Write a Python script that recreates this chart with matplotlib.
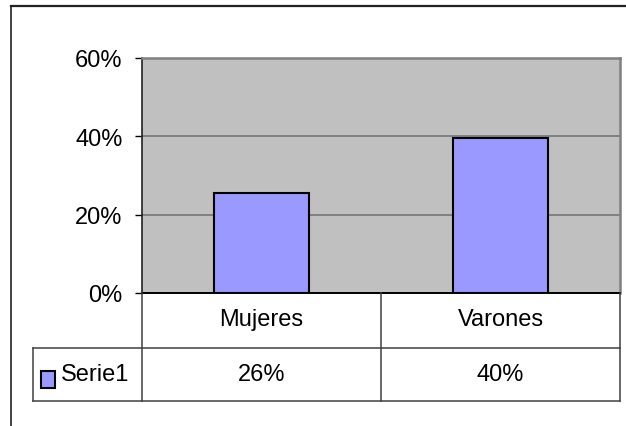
import matplotlib.pyplot as plt
from matplotlib.lines import Line2D
from matplotlib.patches import Rectangle

categories = ['Mujeres', 'Varones']
values = [0.255, 0.395]
table_labels = ['26%', '40%']
series_name = 'Serie1'
y_ticks = [0, 0.2, 0.4, 0.6]

W, H = 626, 427
plt.rcParams['font.family'] = ['Liberation Sans', 'DejaVu Sans']
fig = plt.figure(figsize=(W / 100, H / 100), dpi=100)


def fx(x):
    return x / W


def fy(y):
    return 1 - y / H


# outer chart border (right and bottom edges fall outside the picture)
fig.add_artist(Line2D([fx(11), fx(640)], [fy(7), fy(7)], transform=fig.transFigure, color='#222222', lw=1.6))
fig.add_artist(Line2D([fx(11), fx(11)], [fy(7), fy(440)], transform=fig.transFigure, color='#222222', lw=1.2))

left, right, top, bottom = 142, 620, 59, 294
ax = fig.add_axes([fx(left), fy(bottom), fx(right - left), fy(top) - fy(bottom)])
ax.set_facecolor('#C0C0C0')
x = range(len(categories))
ax.bar(x, values, width=0.4, color='#9999FF', edgecolor='black', linewidth=1.5, zorder=3)
ax.set_xlim(-0.5, len(categories) - 0.5)
ax.set_ylim(0, 0.6)
ax.set_yticks(y_ticks)
ax.set_yticklabels(['%d%%' % round(v * 100) for v in y_ticks], fontsize=17)
ax.yaxis.grid(True, color='#808080', lw=1.4, zorder=0)
ax.set_xticks([])
ax.tick_params(axis='y', length=5, width=1, pad=9, color='black')
for s in ax.spines.values():
    s.set_color('#808080')
    s.set_linewidth(1.8)
ax.spines['left'].set_color('#222222')
ax.spines['left'].set_linewidth(1.2)
ax.spines['bottom'].set_color('black')
ax.spines['bottom'].set_linewidth(1.4)

# data table
mid = (left + right) / 2
row1, row2, row3 = 294, 349, 402
lc = '#404040'
lines = [
    ((left, left), (row1, row3)),
    ((mid, mid), (row1, row3)),
    ((right, right), (row1, row3)),
    ((33, right), (row2, row2)),
    ((33, right), (row3, row3)),
    ((33, 33), (row2, row3)),
]
for xs, ys in lines:
    fig.add_artist(Line2D([fx(v) for v in xs], [fy(v) for v in ys], transform=fig.transFigure,
                          color=lc, lw=1.1))

col_w = (right - left) / len(categories)
for i, (cat, lab) in enumerate(zip(categories, table_labels)):
    cx = left + col_w * (i + 0.5)
    fig.text(fx(cx), fy((row1 + row2) / 2 - 1), cat, ha='center', va='center', fontsize=17)
    fig.text(fx(cx), fy((row2 + row3) / 2), lab, ha='center', va='center', fontsize=17)

fig.add_artist(Rectangle((fx(41), fy(389)), fx(14), fy(372) - fy(389), transform=fig.transFigure,
                         facecolor='#9999FF', edgecolor='black', lw=1.5))
fig.text(fx(61), fy((row2 + row3) / 2), series_name, ha='left', va='center', fontsize=17)

fig.savefig('out.png', dpi=100)
